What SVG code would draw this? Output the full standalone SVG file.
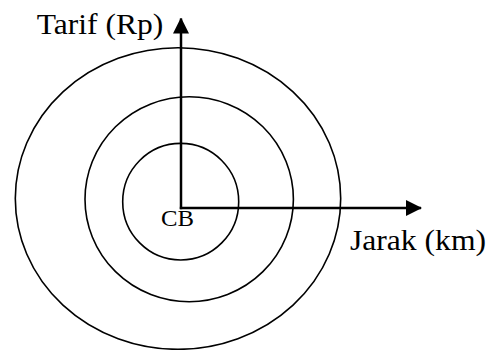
<svg xmlns="http://www.w3.org/2000/svg" width="496" height="350" viewBox="0 0 496 350">
<style>
.ring{fill:none;stroke:#000;stroke-width:1.6}
.axis{fill:none;stroke:#000;stroke-width:2.5}
.lbl{font-family:"Liberation Serif","Times New Roman",serif;fill:#000}
</style>
<defs>
<marker id="ah" markerUnits="userSpaceOnUse" markerWidth="16" markerHeight="16" refX="15" refY="8" orient="auto">
<path d="M0,0 L16,8 L0,16 Z" fill="#000"/>
</marker>
</defs>
<rect width="496" height="350" fill="#fff"/>
<g id="outer-ring"><ellipse class="ring" cx="178" cy="198.5" rx="162.7" ry="150.8"/></g>
<g id="middle-ring"><ellipse class="ring" cx="189.2" cy="199.2" rx="104.2" ry="102.5"/></g>
<g id="inner-ring"><ellipse class="ring" cx="180.7" cy="201.7" rx="58" ry="58.3"/></g>
<g id="connectors">
<line class="axis" x1="181" y1="209.2" x2="181" y2="18.5" marker-end="url(#ah)"/>
<line class="axis" x1="179.8" y1="208" x2="421" y2="208" marker-end="url(#ah)"/>
</g>
<g id="label-tarif"><text class="lbl" x="36.7" y="33.5" font-size="29" textLength="126.5" lengthAdjust="spacingAndGlyphs">Tarif (Rp)</text></g>
<g id="label-jarak"><text class="lbl" x="350" y="249.5" font-size="29" textLength="136" lengthAdjust="spacingAndGlyphs">Jarak (km)</text></g>
<g id="label-cb"><text class="lbl" x="161" y="226" font-size="23" textLength="33" lengthAdjust="spacingAndGlyphs">CB</text></g>
</svg>
